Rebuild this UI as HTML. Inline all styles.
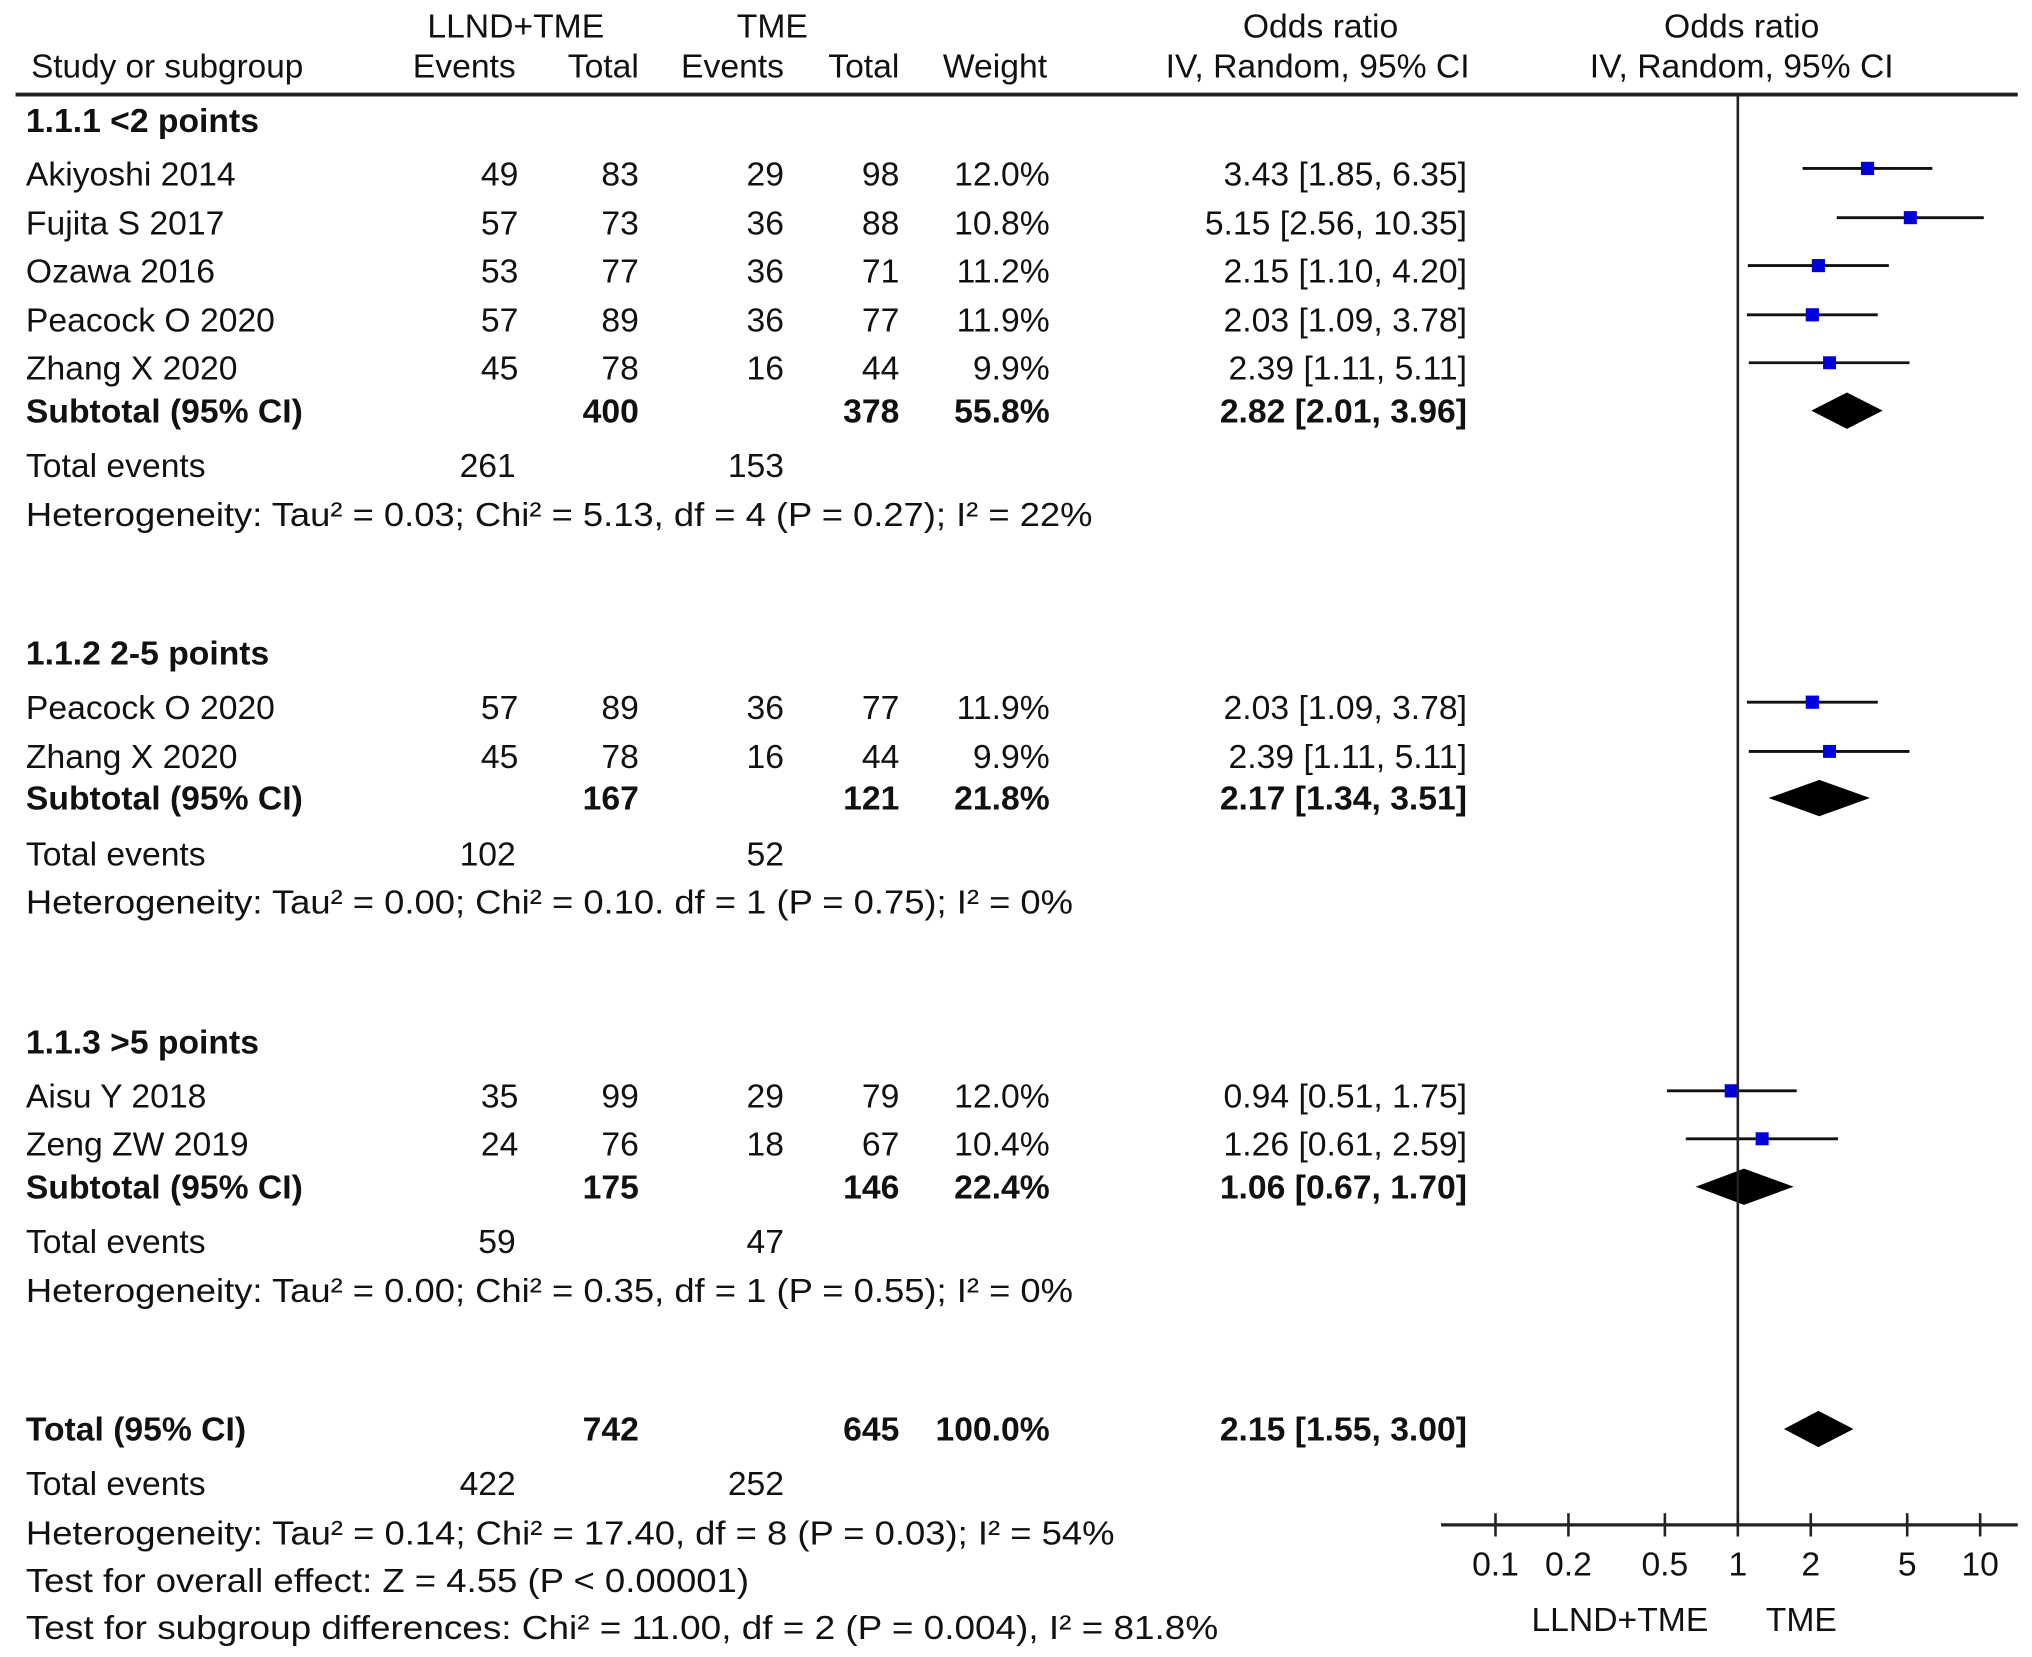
<!DOCTYPE html>
<html><head><meta charset="utf-8"><title>Forest plot</title>
<style>html,body{margin:0;padding:0;background:#fff}svg{display:block}text{font-family:"Liberation Sans",Arial,sans-serif;fill:#111}</style>
</head><body>
<svg id="plot" width="2032" height="1657" viewBox="0 0 1568 1279" preserveAspectRatio="none" xmlns="http://www.w3.org/2000/svg"></svg>
<script>
// ---- data ----
const studyNames = ["Akiyoshi 2014","Fujita S 2017","Ozawa 2016","Peacock O 2020","Zhang X 2020","Peacock O 2020","Zhang X 2020","Aisu Y 2018","Zeng ZW 2019"];
const studyRowY = [134,172,209,247,284,546,584,846,883];
const expEvents = [49,57,53,57,45,57,45,35,24];
const expTotal = [83,73,77,89,78,89,78,99,76];
const ctlEvents = [29,36,36,36,16,36,16,29,18];
const ctlTotal = [98,88,71,77,44,77,44,79,67];
const weights = ["12.0%","10.8%","11.2%","11.9%","9.9%","11.9%","9.9%","12.0%","10.4%"];
const orValue = [3.43,5.15,2.15,2.03,2.39,2.03,2.39,0.94,1.26];
const orLow = [1.85,2.56,1.10,1.09,1.11,1.09,1.11,0.51,0.61];
const orHigh = [6.35,10.35,4.20,3.78,5.11,3.78,5.11,1.75,2.59];
const summaryLabels = ["Subtotal (95% CI)","Subtotal (95% CI)","Subtotal (95% CI)","Total (95% CI)"];
const summaryY = [317,616,916,1103];
const summaryExpTotal = [400,167,175,742];
const summaryCtlTotal = [378,121,146,645];
const summaryWeight = ["55.8%","21.8%","22.4%","100.0%"];
const summaryOR = [2.82,2.17,1.06,2.15];
const summaryLow = [2.01,1.34,0.67,1.55];
const summaryHigh = [3.96,3.51,1.70,3.00];
const tickValues = [0.1,0.2,0.5,1,2,5,10];
const tickLabels = ["0.1","0.2","0.5","1","2","5","10"];

const svg = document.getElementById('plot');
const NS = "http://www.w3.org/2000/svg";
const xScale = v => 1341 + 187*Math.log10(v);
function mk(tag, attrs, parent){const e=document.createElementNS(NS,tag);for(const k in attrs)e.setAttribute(k,attrs[k]);(parent||svg).appendChild(e);return e;}
function txt(s,x,y,anchor,bold,len,name){
  const t=mk('text',{x:x,y:y+9,'font-size':26,'text-anchor':anchor||'start'});
  if(bold)t.setAttribute('font-weight','bold');
  if(len){t.setAttribute('textLength',len);t.setAttribute('lengthAdjust','spacingAndGlyphs');}
  t.textContent=s;
  
  
  return t;
}
function fmt(v){return v.toFixed(2);}

txt("LLND+TME",398,20,'middle',false,null,'header-llnd-tme');
txt("TME",596,20,'middle',false,null,'header-tme');
txt("Odds ratio",1019,20,'middle',false,null,'header-odds-ratio');
txt("Odds ratio",1344,20,'middle',false,null,'header-odds-ratio-plot');
txt("Study or subgroup",24,51,'start',false,210,'header-study');
txt("Events",398,51,'end',false,null,'header-events');
txt("Total",493,51,'end',false,null,'header-total');
txt("Events",605,51,'end',false,null,'header-events-2');
txt("Total",694,51,'end',false,null,'header-total-2');
txt("Weight",808,51,'end',false,null,'header-weight');
txt("IV, Random, 95% CI",1134,51,'end',false,null,'header-method');
txt("IV, Random, 95% CI",1344,51,'middle',false,null,'header-method-plot');
let hl=mk('line',{x1:12,y1:73,x2:1557,y2:73,stroke:'#222','stroke-width':3});



txt("1.1.1 <2 points",20,93,'start',true,null,'subgroup-heading-1');
txt("1.1.2 2-5 points",20,504,'start',true,null,'subgroup-heading-2');
txt("1.1.3 >5 points",20,804,'start',true,null,'subgroup-heading-3');

for(let i=0;i<studyNames.length;i++){
  const y=studyRowY[i];
  txt(studyNames[i],20,y,'start',false,null,'study-name');
  txt(String(expEvents[i]),400,y,'end',false,null,'exp-events');
  txt(String(expTotal[i]),493,y,'end',false,null,'exp-total');
  txt(String(ctlEvents[i]),605,y,'end',false,null,'ctl-events');
  txt(String(ctlTotal[i]),694,y,'end',false,null,'ctl-total');
  txt(weights[i],810,y,'end',false,null,'study-weight');
  txt(fmt(orValue[i])+" ["+fmt(orLow[i])+", "+fmt(orHigh[i])+"]",1132,y,'end',false,null,'study-or');
  const ci=mk('line',{x1:xScale(orLow[i]),x2:xScale(orHigh[i]),y1:y-4,y2:y-4,stroke:'#111','stroke-width':2.2});
  
  
  const s=9+parseFloat(weights[i])*0.1;
  const sq=mk('rect',{x:xScale(orValue[i])-s/2,y:y-4-s/2,width:s,height:s,fill:'#0000dd'});
  
  
}

for(let i=0;i<summaryLabels.length;i++){
  const y=summaryY[i];
  txt(summaryLabels[i],20,y,'start',true,null,'summary-label');
  txt(String(summaryExpTotal[i]),493,y,'end',true,null,'summary-exp-total');
  txt(String(summaryCtlTotal[i]),694,y,'end',true,null,'summary-ctl-total');
  txt(summaryWeight[i],810,y,'end',true,null,'summary-weight');
  txt(fmt(summaryOR[i])+" ["+fmt(summaryLow[i])+", "+fmt(summaryHigh[i])+"]",1132,y,'end',true,null,'summary-or');
  const xl=xScale(summaryLow[i]),xh=xScale(summaryHigh[i]),xc=xScale(summaryOR[i]);
  const d=mk('polygon',{points:`${xl},${y} ${xc},${y-14} ${xh},${y} ${xc},${y+14}`,fill:'#000'});
  
  
}

const teY=[359,659,958,1145], teA=["261","102","59","422"], teB=["153","52","47","252"];
for(let i=0;i<4;i++){
  txt("Total events",20,teY[i],'start',false,null,'total-events-label');
  txt(teA[i],398,teY[i],'end',false,null,'total-events-exp');
  txt(teB[i],605,teY[i],'end',false,null,'total-events-ctl');
}
txt("Heterogeneity: Tau² = 0.03; Chi² = 5.13, df = 4 (P = 0.27); I² = 22%",20,397,'start',false,823,'heterogeneity-1');
txt("Heterogeneity: Tau² = 0.00; Chi² = 0.10. df = 1 (P = 0.75); I² = 0%",20,696,'start',false,808,'heterogeneity-2');
txt("Heterogeneity: Tau² = 0.00; Chi² = 0.35, df = 1 (P = 0.55); I² = 0%",20,996,'start',false,808,'heterogeneity-3');
txt("Heterogeneity: Tau² = 0.14; Chi² = 17.40, df = 8 (P = 0.03); I² = 54%",20,1183,'start',false,840,'heterogeneity-total');
txt("Test for overall effect: Z = 4.55 (P < 0.00001)",20,1220,'start',false,558,'overall-effect');
txt("Test for subgroup differences: Chi² = 11.00, df = 2 (P = 0.004), I² = 81.8%",20,1256,'start',false,920,'subgroup-differences');

let v=mk('line',{x1:xScale(1),x2:xScale(1),y1:73,y2:1177,stroke:'#222','stroke-width':2});


let ax=mk('line',{x1:1112,x2:1557,y1:1177,y2:1177,stroke:'#222','stroke-width':2.5});


for(let i=0;i<tickValues.length;i++){
  const x=xScale(tickValues[i]);
  const t=mk('line',{x1:x,x2:x,y1:1168,y2:1186,stroke:'#222','stroke-width':2});
  
  
  txt(tickLabels[i],x,1207,'middle',false,null,'x-tick-label');
}
txt("LLND+TME",1250,1250,'middle',false,null,'favours-llnd-tme');
txt("TME",1390,1250,'middle',false,null,'favours-tme');
</script>
</body></html>
